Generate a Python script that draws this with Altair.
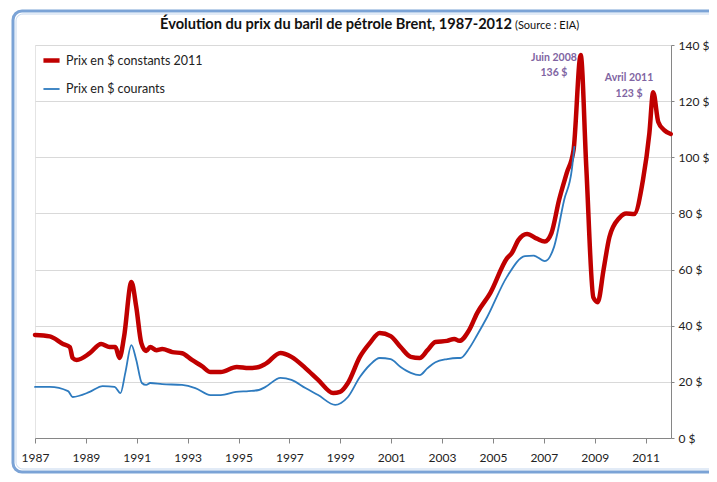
import altair as alt
import pandas as pd

# Prix en $ constants 2011 (rouge)
annees_const = [1987.0, 1987.58, 1988.1, 1988.37, 1988.48, 1988.64, 1989.15, 1989.6, 1989.93, 1990.16,
                1990.32, 1990.5, 1990.79, 1990.98, 1991.18, 1991.37, 1991.53, 1991.77, 1992.0, 1992.4,
                1992.78, 1993.17, 1993.56, 1993.9, 1994.3, 1994.93, 1995.4, 1995.8, 1996.06, 1996.65,
                1997.08, 1997.63, 1998.13, 1998.72, 1998.99, 1999.3, 1999.77, 2000.16, 2000.55, 2000.98,
                2001.37, 2001.77, 2002.12, 2002.43, 2002.74, 2003.2, 2003.48, 2003.68, 2004.07, 2004.38,
                2004.9, 2005.55, 2005.75, 2006.0, 2006.34, 2006.73, 2007.04, 2007.3, 2007.6, 2007.9,
                2008.17, 2008.45, 2008.67, 2008.95, 2009.12, 2009.35, 2009.58, 2009.97, 2010.24, 2010.55,
                2010.9, 2011.15, 2011.3, 2011.5, 2011.73, 2011.99]
prix_const = [36.7, 36.2, 33.5, 32.4, 28.5, 27.8, 30.2, 33.5, 32.4, 32.4,
              28.5, 36.0, 55.6, 46.7, 33.8, 31.0, 32.4, 31.3, 31.7, 30.6,
              30.2, 27.8, 25.6, 23.5, 23.5, 25.3, 24.9, 25.3, 26.4, 30.3,
              28.9, 24.9, 20.7, 16.0, 16.4, 19.6, 28.9, 33.8, 37.4, 36.3,
              32.4, 28.9, 28.5, 31.3, 34.2, 34.6, 35.3, 34.6, 38.5, 44.5,
              51.7, 64.0, 66.0, 70.5, 72.7, 71.0, 70.0, 73.0, 84.8, 94.4,
              102.6, 136.4, 96.5, 50.0, 48.4, 60.0, 71.6, 78.4, 80.0, 79.8,
              92.0, 108.6, 123.2, 112.6, 109.7, 108.3]

# Prix en $ courants (bleu)
annees_cour = [1987.0, 1987.58, 1988.3, 1988.48, 1989.15, 1989.66, 1990.13, 1990.36, 1990.55, 1990.79,
               1990.98, 1991.2, 1991.37, 1991.53, 1992.0, 1992.78, 1993.3, 1993.9, 1994.3, 1994.9,
               1995.4, 1995.8, 1996.06, 1996.65, 1997.08, 1997.63, 1998.13, 1998.8, 1999.03, 1999.3,
               1999.77, 2000.16, 2000.55, 2000.98, 2001.37, 2001.77, 2002.12, 2002.43, 2002.74, 2003.2,
               2003.6, 2003.72, 2004.07, 2004.38, 2004.77, 2005.55, 2006.26, 2006.6, 2007.04, 2007.4,
               2007.8, 2008.1, 2008.2]
prix_cour = [18.2, 18.2, 16.7, 14.6, 16.4, 18.5, 18.2, 16.0, 23.2, 33.1,
             27.8, 19.6, 18.9, 19.6, 19.2, 18.9, 17.8, 15.3, 15.3, 16.4,
             16.7, 17.1, 18.2, 21.4, 20.7, 17.8, 15.3, 11.8, 12.5, 14.6,
             21.7, 26.0, 28.5, 28.1, 25.3, 23.2, 22.4, 24.9, 27.0, 28.1,
             28.5, 28.5, 32.0, 36.7, 43.0, 57.4, 64.8, 65.0, 63.0, 68.0,
             84.8, 95.5, 103.7]

series = ["Prix en $ constants 2011", "Prix en $ courants"]
couleurs = ["#C00000", "#2E7BBF"]
epaisseurs = [4.5, 1.8]

x_ticks = list(range(1987, 2012))
x_labels = [1987, 1989, 1991, 1993, 1995, 1997, 1999, 2001, 2003, 2005, 2007, 2009, 2011]
y_ticks = [0, 20, 40, 60, 80, 100, 120, 140]

annot_text = ["Juin 2008", "136 $", "Avril 2011", "123 $"]
annot_x = [2007.4, 2007.4, 2010.35, 2010.35]
annot_y = [135.4, 130.0, 128.2, 122.5]

df = pd.concat([
    pd.DataFrame({"annee": annees_const, "prix": prix_const, "serie": series[0]}),
    pd.DataFrame({"annee": annees_cour, "prix": prix_cour, "serie": series[1]}),
])
df_annot = pd.DataFrame({"annee": annot_x, "prix": annot_y, "txt": annot_text})

FONT = "Lato"
W, H = 636, 393

x_enc = alt.X("annee:Q", scale=alt.Scale(domain=[1987, 2012], nice=False, zero=False),
              axis=alt.Axis(values=x_ticks, title=None, grid=False,
                            labelExpr="indexof(%s, datum.value) >= 0 ? format(datum.value, 'd') : ''" % str(x_labels),
                            labelOverlap=False, labelFlush=False, tickSize=5, labelPadding=9,
                            domainColor="#868686", tickColor="#868686",
                            labelColor="#222222", labelFontSize=12, labelFont=FONT))
y_enc = alt.Y("prix:Q", scale=alt.Scale(domain=[0, 140], nice=False),
              axis=alt.Axis(orient="right", values=y_ticks, title=None,
                            labelExpr="datum.value + ' $'", tickSize=3, labelPadding=4,
                            labelFlush=False,
                            domainColor="#868686", tickColor="#868686",
                            gridColor="#D9D9D9", labelColor="#222222",
                            labelFontSize=12, labelFont=FONT))

leg = dict(title=None, orient="none", legendX=6, legendY=5,
           symbolType="stroke", symbolSize=260,
           labelFontSize=12.5, labelFont=FONT, labelColor="#222222",
           rowPadding=10, labelOffset=4)

lines = alt.Chart(df).mark_line(interpolate="monotone", strokeCap="round", strokeJoin="round").encode(
    x=x_enc, y=y_enc,
    color=alt.Color("serie:N", scale=alt.Scale(domain=series, range=couleurs),
                    legend=alt.Legend(**leg)),
    strokeWidth=alt.StrokeWidth("serie:N", scale=alt.Scale(domain=series, range=epaisseurs),
                                legend=alt.Legend(**leg)),
)

annots = alt.Chart(df_annot).mark_text(font=FONT, fontSize=10.5, fontWeight="bold",
                                       color="#8064A2", align="center", baseline="middle").encode(
    x=alt.X("annee:Q"), y=alt.Y("prix:Q"), text="txt:N")

frame_data = alt.Data(values=[{"k": 1}])
frame_outer = alt.Chart(frame_data).mark_rect(filled=False, stroke="#7BA3D6", strokeWidth=3,
                                              cornerRadius=9).encode(
    x=alt.value(-22), x2=alt.value(W + 70), y=alt.value(-34), y2=alt.value(H + 34))
frame_inner = alt.Chart(frame_data).mark_rect(filled=False, stroke="#C5D7EE", strokeWidth=1,
                                              cornerRadius=7).encode(
    x=alt.value(-19), x2=alt.value(W + 67), y=alt.value(-31), y2=alt.value(H + 31))

title_main = alt.Chart(frame_data).mark_text(font=FONT, fontSize=14.6, fontWeight="bold",
                                             color="#111111", align="right", baseline="middle").encode(
    x=alt.value(477), y=alt.value(-20),
    text=alt.value("Évolution du prix du baril de pétrole Brent, 1987-2012"))
title_src = alt.Chart(frame_data).mark_text(font=FONT, fontSize=11, color="#111111",
                                            align="left", baseline="middle").encode(
    x=alt.value(480), y=alt.value(-19), text=alt.value("(Source : EIA)"))

chart = alt.layer(frame_outer, frame_inner, lines, annots, title_main, title_src).properties(
    width=W, height=H,
    padding={"left": 27, "top": 37, "right": 38, "bottom": 36},
    autosize=alt.AutoSizeParams(type="none"),
    background="white",
).configure_view(stroke="#E4E4E4")

chart.save("out.html", embed_options={"renderer": "svg", "actions": False})
